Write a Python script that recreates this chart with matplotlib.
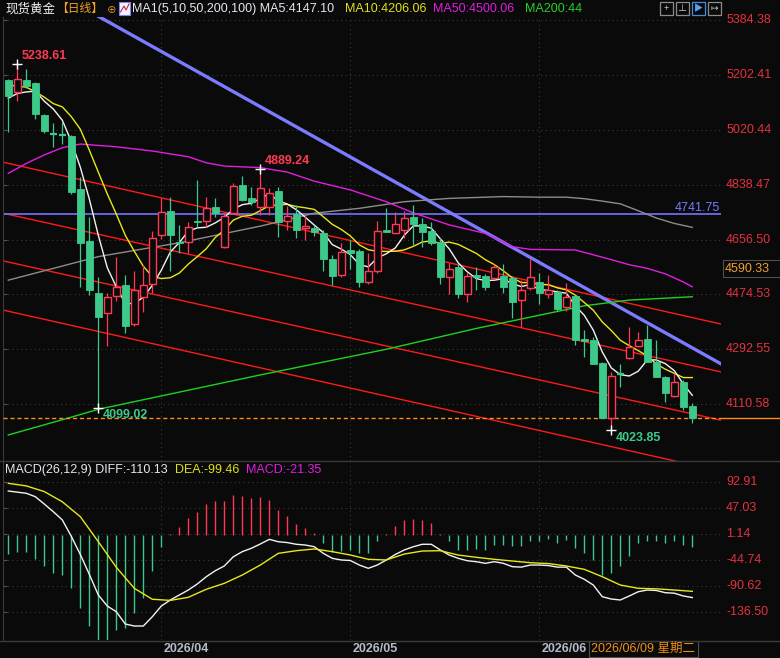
import matplotlib
matplotlib.use('Agg')
import matplotlib.pyplot as plt
import numpy as np
import pandas as pd
from matplotlib.patches import Rectangle
from matplotlib.lines import Line2D

plt.rcParams['font.family'] = ['Liberation Sans', 'Noto Sans CJK SC', 'DejaVu Sans']

# ---------------- data ----------------
opens = [5185, 5146, 5185, 5176, 5069, 5007, 5006, 5000, 4824, 4652,
         4478, 4414, 4470, 4506, 4376, 4465, 4508, 4672, 4751, 4649,
         4647, 4719, 4719, 4765, 4633, 4744, 4837, 4793, 4765, 4765,
         4818, 4718, 4740, 4696, 4696, 4677, 4592, 4539, 4622, 4619,
         4517, 4553, 4688, 4677, 4688, 4732, 4708, 4685, 4649, 4531,
         4565, 4476, 4539, 4536, 4530, 4536, 4530, 4456, 4495, 4517,
         4476, 4484, 4434, 4470, 4328, 4324, 4248, 4064, 4213, 4263,
         4305, 4327, 4252, 4202, 4139, 4186, 4105]
highs = [5188, 5238.61, 5221, 5180, 5072, 5042, 5045, 5002, 4865, 4732,
         4531, 4478, 4598, 4539, 4552, 4572, 4685, 4793, 4799, 4705,
         4716, 4854, 4799, 4793, 4746, 4843, 4867, 4832, 4889.24, 4826,
         4832, 4768, 4771, 4738, 4705, 4688, 4605, 4644, 4655, 4624,
         4613, 4719, 4760, 4747, 4752, 4771, 4727, 4716, 4661, 4578,
         4577, 4547, 4567, 4542, 4576, 4576, 4536, 4522, 4591, 4545,
         4539, 4489, 4512, 4472, 4357, 4335, 4250, 4219, 4244, 4366,
         4351, 4373, 4324, 4205, 4213, 4191, 4114]
lows = [5014, 5117, 5160, 5055, 5009, 4964, 4972, 4807, 4500, 4473,
        4099.02, 4305, 4454, 4348, 4370, 4417, 4480, 4657, 4553, 4611,
        4611, 4699, 4699, 4732, 4628, 4740, 4785, 4770, 4737, 4737,
        4666, 4688, 4663, 4655, 4668, 4553, 4506, 4533, 4558, 4498,
        4509, 4545, 4682, 4677, 4661, 4638, 4633, 4640, 4509, 4476,
        4462, 4451, 4489, 4489, 4525, 4480, 4398, 4366, 4489, 4443,
        4462, 4421, 4421, 4307, 4266, 4244, 4064, 4023.85, 4169, 4260,
        4302, 4250, 4200, 4119, 4135, 4092, 4048]
closes = [5132, 5188, 5166, 5073, 5016, 5003, 5002, 4815, 4646, 4489,
          4401, 4465, 4498, 4370, 4489, 4506, 4661, 4749, 4672, 4644,
          4697, 4714, 4760, 4744, 4735, 4834, 4788, 4782, 4826, 4812,
          4716, 4735, 4688, 4702, 4681, 4592, 4536, 4614, 4611, 4517,
          4552, 4684, 4683, 4708, 4727, 4708, 4682, 4646, 4533, 4558,
          4476, 4536, 4533, 4500, 4565, 4500, 4451, 4489, 4532, 4480,
          4489, 4426, 4467, 4324, 4321, 4244, 4064, 4204, 4210, 4300,
          4324, 4252, 4202, 4149, 4184, 4103, 4064]
prior_closes = [5230, 5200, 5220, 5200, 5215, 5110, 5140, 5060, 5183]

ma50_idx = [0, 2, 4, 6, 8, 12, 16, 20, 22, 24, 28, 31, 34, 38, 42, 45, 49, 53,
            56, 58, 63, 65, 67, 69, 71, 73, 75, 76]
ma50_val = [4876, 4909, 4937, 4961, 4973, 4964, 4950, 4931, 4911, 4900, 4895,
            4880, 4850, 4821, 4782, 4745, 4705, 4677, 4633, 4624, 4622, 4606,
            4590, 4573, 4561, 4543, 4516, 4500]
ma100_idx = [0, 10, 19, 28, 34, 39, 44, 49, 55, 59, 62, 64, 66, 68, 70, 72, 74, 76]
ma100_val = [4522, 4600, 4646, 4701, 4744, 4760, 4782, 4793, 4799, 4797, 4797,
             4792, 4784, 4775, 4752, 4728, 4710, 4697]
ma200_idx = [0, 7, 10, 28, 42, 52, 64, 69, 76]
ma200_val = [4009, 4068, 4094, 4208, 4293, 4362, 4437, 4456, 4467]

macd_hist = [-34, -30, -30, -43, -56, -67, -71, -95, -129, -162,
             -195, -195, -169, -165, -139, -111, -65, -21, 2, 14,
             30, 40, 54, 59, 59, 70, 68, 65, 66, 61,
             43, 33, 19, 11, 3, -14, -30, -29, -27, -33,
             -33, -12, 2, 15, 25, 28, 26, 20, 2, -11,
             -27, -27, -26, -27, -18, -18, -20, -20, -11, -11,
             -8, -14, -9, -24, -32, -45, -71, -67, -55, -38,
             -15, -11, -11, -15, -12, -18, -22]
diff_line = [77, 75, 73, 67, 54, 40.5, 26, -3, -35, -70,
             -106.5, -126, -136, -157.7, -161.2, -161.2, -144.8, -126, -115.3, -106.5,
             -97.7, -87, -74.2, -63.6, -55.3, -39, -30, -24.1, -16.5, -8.3,
             -12.5, -14, -17, -18.3, -21.3, -33, -41.8, -44.7, -45.6, -53.6,
             -59.4, -53.6, -44.7, -35, -27, -21.3, -17, -17, -27, -36,
             -41.8, -46, -47.7, -50.6, -47.7, -50.6, -56.5, -57.3, -53.6, -53.6,
             -54.5, -57.3, -57.3, -71.2, -78.8, -88.9, -109.5, -113.6, -115.3, -108.2,
             -100.7, -97.7, -98.5, -102.4, -103.3, -108.2, -111]
dea_idx = list(range(0, 77, 2))
dea_line = [90.6, 86, 76, 58, 31.7, -12.4, -57.6, -94.7, -114, -116,
            -110.6, -96.4, -85.9, -71.2, -53.6, -33, -28.3, -25.3, -30, -35.9,
            -43.5, -44.7, -34.2, -28.9, -28.3, -36, -40, -43.5, -46.5, -49.5,
            -51, -55.3, -61.2, -74.2, -88.9, -94.7, -95.6, -97.7, -100]

price_ticks = [5384.38, 5202.41, 5020.44, 4838.47, 4656.50, 4474.53, 4292.55, 4110.58]
macd_ticks = [92.91, 47.03, 1.14, -44.74, -90.62, -136.50]
date_idx = [17, 38, 59]
date_labels = ['2026/04', '2026/05', '2026/06']
hline_price = 4741.75
channel_lines = [(4909, 4398), (4740, 4239), (4582, 4079), (4419, 3910)]  # value at idx 0, idx 76
trend_pts = [(20, 5230), (70, 4397.6)]

# ---------------- style ----------------
BG = '#0a0a0a'
RED = '#ff3a52'
GREEN = '#3cc98a'
AXRED = '#e3323e'
GRID = '#3a3a3a'
FS = 9.0
W, H = 780, 658

fig = plt.figure(figsize=(7.8, 6.58), dpi=100)
fig.patch.set_facecolor(BG)

def fx(x): return x / W
def fy(y): return 1 - y / H

ax = fig.add_axes([fx(3), fy(461), fx(721) - fx(3), fy(17) - fy(461)])
ax2 = fig.add_axes([fx(3), fy(640), fx(721) - fx(3), fy(462) - fy(640)])
n = len(closes)
XL = (-0.59, 79.19)
for a in (ax, ax2):
    a.set_facecolor(BG)
    a.set_xlim(*XL)
    for s in a.spines.values():
        s.set_color('#3a3a3a')
        s.set_linewidth(0.8)
    a.spines['top'].set_visible(False)
    a.spines['right'].set_visible(False)
    a.spines['bottom'].set_visible(False)
    a.set_xticks([])
ax.set_ylim(3922.7, 5394.1)
ax2.set_ylim(-185.9, 128.2)

# grid
for v in price_ticks:
    ax.axhline(v, color=GRID, lw=0.8, ls=(0, (1, 3)), zorder=0)
for v in macd_ticks:
    ax2.axhline(v, color=GRID, lw=0.8, ls=(0, (1, 3)), zorder=0)
for a in (ax, ax2):
    for d in date_idx:
        a.axvline(d, color=GRID, lw=0.8, ls=(0, (1, 3)), zorder=0)
    a.axvline(XL[1] - 0.05, color=GRID, lw=0.8, ls=(0, (1, 3)), zorder=0)
ax.set_yticks(price_ticks)
ax.set_yticklabels([])
ax.tick_params(axis='y', direction='in', length=3, color='#555555', left=True)
ax2.set_yticks(macd_ticks)
ax2.set_yticklabels([])
ax2.tick_params(axis='y', direction='in', length=3, color='#555555', left=True)

# axis labels on the right
ty = ax.get_yaxis_transform()
for v in price_ticks:
    ax.text(1.007, v, f'{v:.2f}', transform=ty, color=AXRED, fontsize=FS,
            va='center', ha='left', clip_on=False)
ty2 = ax2.get_yaxis_transform()
for v in macd_ticks:
    ax2.text(1.007, v, f'{v:.2f}', transform=ty2, color=AXRED, fontsize=FS,
             va='center', ha='left', clip_on=False)

# ---------------- lines behind candles ----------------
xs = np.array([-5, 90])
for v0, v1 in channel_lines:
    slope = (v1 - v0) / 76.0
    ax.plot(xs, v0 + slope * xs, color='#ff1a1a', lw=1.0, zorder=1)
ax.axhline(hline_price, color='#7474ff', lw=1.2, zorder=1)
(t0, p0), (t1, p1) = trend_pts
tsl = (p1 - p0) / (t1 - t0)
ax.plot(xs, p0 + tsl * (xs - t0), color='#7b7bff', lw=2.4, zorder=2)

# moving averages
allc = pd.Series(prior_closes + closes)
ma5 = allc.rolling(5).mean().values[len(prior_closes):]
ma10 = allc.rolling(10).mean().values[len(prior_closes):]
idx = np.arange(n)
ax.plot(ma200_idx, ma200_val, color='#1ed21e', lw=1.0, zorder=2)
ax.plot(ma100_idx, ma100_val, color='#8c8c8c', lw=1.0, zorder=2)
ax.plot(ma50_idx, ma50_val, color='#e01ee0', lw=1.0, zorder=2)
ax.plot(idx, ma10, color='#e8e81a', lw=1.0, zorder=4)
ax.plot(idx, ma5, color='#f2f2f2', lw=1.0, zorder=4)

# last price dashed line
ax.axhline(closes[-1], color='#ff8c1a', lw=1.0, ls=(0, (3, 2)), zorder=3)
fig.add_artist(Line2D([fx(721), fx(780)], [fy(418.3), fy(418.3)], color='#ff8c1a', lw=1.0))

# ---------------- candles ----------------
bw = 0.72
for i in range(n):
    o, h, l, c = opens[i], highs[i], lows[i], closes[i]
    up = c >= o
    col = RED if up else GREEN
    top, bot = max(o, c), min(o, c)
    if top - bot < 5:
        ax.vlines(i, l, h, color=col, lw=0.9, zorder=5)
        ax.hlines((o + c) / 2, i - bw / 2, i + bw / 2, color=col, lw=1.6, zorder=5)
    elif up:
        ax.add_patch(Rectangle((i - bw / 2, bot), bw, top - bot, facecolor=BG,
                               edgecolor=col, lw=1.0, zorder=5))
        if h > top:
            ax.vlines(i, top, h, color=col, lw=0.9, zorder=5)
        if l < bot:
            ax.vlines(i, l, bot, color=col, lw=0.9, zorder=5)
    else:
        ax.vlines(i, l, h, color=col, lw=0.9, zorder=5)
        ax.add_patch(Rectangle((i - bw / 2, bot), bw, top - bot, facecolor=col,
                               edgecolor=col, lw=0.6, zorder=5))

# extreme markers
hi_i = int(np.argmax(highs)); lo_i = int(np.argmin(lows))
marks = [(hi_i, highs[hi_i], RED, 'hi'), (28, highs[28], RED, 'hi'),
         (10, lows[10], GREEN, 'lo'), (lo_i, lows[lo_i], GREEN, 'lo')]
for mi, mv, mc, kind in marks:
    ax.plot([mi], [mv], marker='+', color='white', ms=7, mew=1.0, zorder=7)
    dy = 1.5 if kind == 'hi' else -1.0
    ax.annotate(f'{mv:.2f}', xy=(mi, mv), xytext=(3.0, dy), textcoords='offset points',
                color=mc, fontsize=FS, fontweight='bold', ha='left',
                va='bottom' if kind == 'hi' else 'top', zorder=8)

ax.text(0.9985, hline_price, f'{hline_price:.2f}', transform=ty, color='#7878ff',
        fontsize=FS, ha='right', va='bottom', zorder=8)

# ---------------- MACD ----------------
for i, v in enumerate(macd_hist):
    ax2.vlines(i, 0, v, color=RED if v > 0 else GREEN, lw=1.0, zorder=3)
ax2.plot(idx, diff_line, color='#f2f2f2', lw=1.0, zorder=4)
ax2.plot(dea_idx, dea_line, color='#e8e81a', lw=1.0, zorder=4)

# ---------------- frame lines ----------------
fig.add_artist(Line2D([0, 1], [fy(461), fy(461)], color='#3a3a3a', lw=1.0))
fig.add_artist(Line2D([0, 1], [fy(640.5), fy(640.5)], color='#3a3a3a', lw=1.0))

# ---------------- texts ----------------
def T(x, y, s, color, size=FS, ha='left', va='center', **kw):
    return fig.text(fx(x), fy(y), s, color=color, fontsize=size, ha=ha, va=va, **kw)

T(5, 9, '现货黄金', '#f0f0f0')
T(56, 9, '【日线】', '#f0a030', size=8.5)
T(106.5, 9.5, '⊕', '#f0a030', size=7.0)
fig.add_artist(Rectangle((fx(119), fy(15)), 11 / W, 13 / H, transform=fig.transFigure,
                         facecolor='#f4f4ff', edgecolor='#8080ff', lw=0.8))
fig.add_artist(Line2D([fx(120.5), fx(124), fx(126), fx(129)], [fy(12), fy(6), fy(10), fy(4)],
                      color='#d02040', lw=0.8))
T(132, 9, 'MA1(5,10,50,200,100) MA5:4147.10', '#e6e6f0')
T(345, 9, 'MA10:4206.06', '#e0e01a')
T(433, 9, 'MA50:4500.06', '#e01ee0')
T(525, 9, 'MA200:44', '#28d028')

for k, x0 in enumerate([660, 676, 692, 708]):
    ec = '#3d8ee0' if k == 2 else '#8c8c8c'
    fig.add_artist(Rectangle((fx(x0), fy(15)), 12.5 / W, 13 / H, transform=fig.transFigure,
                             facecolor=BG, edgecolor=ec, lw=0.9))
    glyph = ['+', '⊥', '▶', '↦'][k]
    T(x0 + 6.2, 8.5, glyph, '#d0d0d0' if k != 2 else '#5aa0f0', size=6.5, ha='center')

T(5, 470, 'MACD(26,12,9) DIFF:-110.13', '#e6e6f0')
T(175, 470, 'DEA:-99.46', '#e0e01a')
T(246, 470, 'MACD:-21.35', '#e01ee0')

# cursor price box
fig.add_artist(Rectangle((fx(723), fy(277)), 57 / W, 17 / H, transform=fig.transFigure,
                         facecolor=BG, edgecolor='#505050', lw=0.8))
T(725, 268.5, '4590.33', '#f0a030')

# dates
for d, lab in zip(date_idx, date_labels):
    x_px = 3 + (d - XL[0]) / (XL[1] - XL[0]) * 718
    T(x_px + 2, 648.5, lab, '#b4bcc8', fontweight='bold')
fig.add_artist(Rectangle((fx(589), fy(657)), 109 / W, 16 / H, transform=fig.transFigure,
                         facecolor=BG, edgecolor='#505050', lw=0.8))
T(643, 648.5, '2026/06/09 星期二', '#f0901a', ha='center')

fig.savefig('out.png', dpi=100, facecolor=BG)
